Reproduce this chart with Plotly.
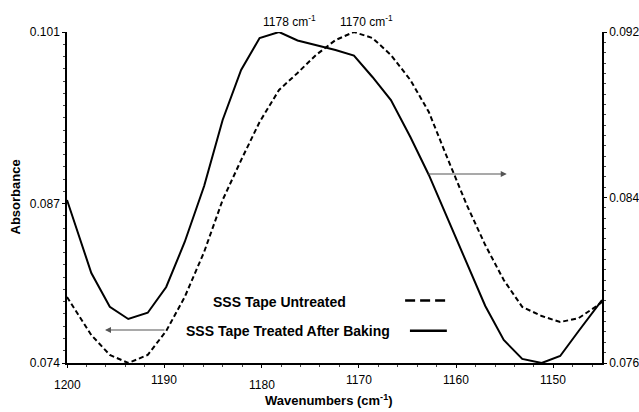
import plotly.graph_objects as go

# ---------------- data ----------------
wavenumber = [1200.0, 1197.5, 1195.6, 1193.7, 1191.7, 1189.8, 1187.9, 1185.9, 1184.0,
              1182.1, 1180.2, 1178.2, 1176.3, 1174.4, 1172.4, 1170.5, 1168.6, 1166.7,
              1164.7, 1162.8, 1160.9, 1158.9, 1157.0, 1155.1, 1153.2, 1151.2, 1149.3,
              1147.4, 1145.4, 1145.0]

treated_after_baking = [0.08730, 0.08134, 0.07859, 0.07759, 0.07810, 0.08020, 0.08387,
                        0.08844, 0.09382, 0.09790, 0.10051, 0.10100, 0.10031, 0.09994,
                        0.09953, 0.09908, 0.09733, 0.09545, 0.09244, 0.08934, 0.08583,
                        0.08224, 0.07865, 0.07588, 0.07433, 0.07400, 0.07457, 0.07661,
                        0.07873, 0.07914]

untreated = [0.07919, 0.07735, 0.07639, 0.07600, 0.07639, 0.07755, 0.07919, 0.08137,
             0.08388, 0.08581, 0.08765, 0.08920, 0.09002, 0.09089, 0.09161, 0.09200,
             0.09171, 0.09089, 0.08968, 0.08813, 0.08591, 0.08364, 0.08170, 0.08001,
             0.07871, 0.07827, 0.07798, 0.07817, 0.07880, 0.07895]

x_tick_vals = [1200, 1190, 1180, 1170, 1160, 1150]
left_tick_vals = [0.074, 0.087, 0.101]
right_tick_vals = [0.076, 0.084, 0.092]
peak_positions = [1178, 1170]
peak_labels = ["1178 cm<sup>-1</sup>", "1170 cm<sup>-1</sup>"]
series_names = ["SSS Tape Untreated", "SSS Tape Treated After Baking"]

# ---------------- style ----------------
FONT = "Liberation Sans, Arial, sans-serif"
x_label_drop = [-22, -17, -22, -17, -17, -17]

fig = go.Figure()
fig.add_trace(go.Scatter(x=wavenumber, y=treated_after_baking, mode="lines",
                         line=dict(color="black", width=2), name=series_names[1],
                         yaxis="y"))
fig.add_trace(go.Scatter(x=wavenumber, y=untreated, mode="lines",
                         line=dict(color="black", width=2, dash="5px,3px"),
                         name=series_names[0], yaxis="y2"))

fig.update_layout(
    width=639, height=412,
    margin=dict(l=67, r=37, t=32, b=49, autoexpand=False),
    paper_bgcolor="white", plot_bgcolor="white",
    showlegend=False,
    font=dict(family=FONT, size=12, color="black"),
    xaxis=dict(range=[1200, 1145], showgrid=False, zeroline=False, automargin=False,
               showline=True, linecolor="black", linewidth=1.5,
               tickvals=x_tick_vals, showticklabels=False,
               ticks="outside", ticklen=3, tickcolor="black",
               minor=dict(dtick=2, tick0=1200, ticks="outside", ticklen=2,
                          tickcolor="#444")),
    yaxis=dict(range=[0.074, 0.101], showgrid=False, zeroline=False, automargin=False,
               showline=True, linecolor="black", linewidth=1.5,
               tickvals=left_tick_vals, ticktext=[f"{v:.3f}" for v in left_tick_vals],
               ticks="outside", ticklen=3, tickcolor="black",
               tickfont=dict(size=12, family=FONT),
               minor=dict(dtick=0.001, tick0=0.074, ticks="outside", ticklen=2,
                          tickcolor="#444")),
    yaxis2=dict(range=[0.076, 0.092], overlaying="y", side="right", anchor="x",
                showgrid=False, zeroline=False, automargin=False,
                showline=True, linecolor="black", linewidth=1.5,
                tickvals=right_tick_vals, ticktext=[f"{v:.3f}" for v in right_tick_vals],
                ticks="outside", ticklen=3, tickcolor="black",
                tickfont=dict(size=12, family=FONT),
                minor=dict(dtick=0.0005, tick0=0.076, ticks="outside", ticklen=2,
                           tickcolor="#444")),
)

annotations = []
# x tick labels
for v, dy in zip(x_tick_vals, x_label_drop):
    annotations.append(dict(x=v, xref="x", y=0, yref="paper", yshift=dy,
                            text=str(v), showarrow=False,
                            font=dict(size=12, family=FONT), yanchor="middle"))
# axis titles
annotations.append(dict(x=0.5, xref="paper", y=0, yref="paper", xshift=-6, yshift=-37,
                        text="<b>Wavenumbers (cm<sup>-1</sup>)</b>", showarrow=False,
                        font=dict(size=13, family=FONT), yanchor="middle"))
annotations.append(dict(x=0, xref="paper", y=0.5, yref="paper", xshift=-52,
                        text="<b>Absorbance</b>", textangle=-90, showarrow=False,
                        font=dict(size=13, family=FONT), xanchor="center"))
# peak labels
for p, t in zip(peak_positions, peak_labels):
    annotations.append(dict(x=p, xref="x", y=1, yref="paper", xshift=8, yshift=11,
                            text=t, showarrow=False,
                            font=dict(size=12, family=FONT), yanchor="middle"))
# legend text
annotations.append(dict(x=0.398, xref="paper", y=0.184, yref="paper",
                        text=f"<b>{series_names[0]}</b>", showarrow=False,
                        font=dict(size=14, family=FONT), yanchor="middle"))
annotations.append(dict(x=0.414, xref="paper", y=0.097, yref="paper",
                        text=f"<b>{series_names[1]}</b>", showarrow=False,
                        font=dict(size=14, family=FONT), yanchor="middle"))
fig.update_layout(annotations=annotations)

# arrows indicating which axis each curve uses
fig.add_annotation(x=0.822, xref="paper", y=0.571, yref="paper",
                   ax=-80, ay=0, axref="pixel", ayref="pixel",
                   text="", showarrow=True, arrowhead=2, arrowsize=1,
                   arrowwidth=1.2, arrowcolor="#555")
fig.add_annotation(x=0.071, xref="paper", y=0.0997, yref="paper",
                   ax=61, ay=0, axref="pixel", ayref="pixel",
                   text="", showarrow=True, arrowhead=2, arrowsize=1,
                   arrowwidth=1.2, arrowcolor="#555")

# legend line samples
fig.add_shape(type="line", xref="paper", yref="paper", x0=0.632, x1=0.708,
              y0=0.189, y1=0.189, line=dict(color="black", width=2.5, dash="10px,5px"))
fig.add_shape(type="line", xref="paper", yref="paper", x0=0.641, x1=0.710,
              y0=0.0976, y1=0.0976, line=dict(color="black", width=2.5))

fig.write_html("out.html")
